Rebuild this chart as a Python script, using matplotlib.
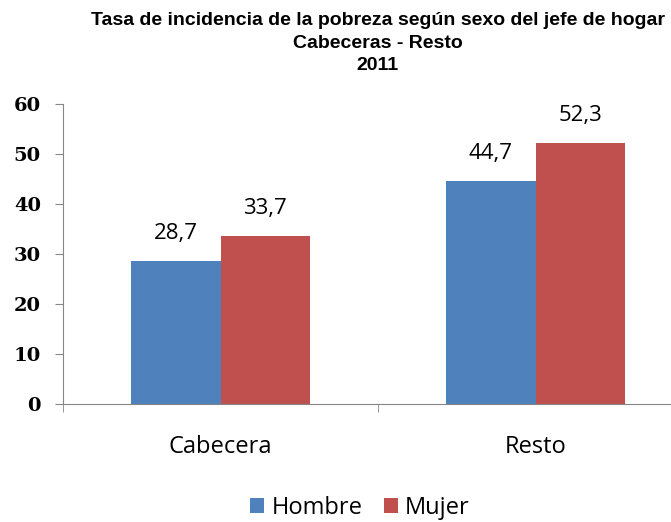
import matplotlib.pyplot as plt
import numpy as np

categorias = ['Cabecera', 'Resto']
hombre = [28.7, 44.7]
mujer = [33.7, 52.3]
series = ['Hombre', 'Mujer']
colores = ['#4F81BD', '#C0504D']
titulo = ['Tasa de incidencia de la pobreza según sexo del jefe de hogar', 'Cabeceras - Resto', '2011']

fig = plt.figure(figsize=(6.71, 5.22), dpi=100)
# eje que se sale por la derecha como en el original
ax = fig.add_axes([63 / 671, (522 - 404) / 522, 630 / 671, 300 / 522])

x = np.arange(len(categorias))
w = 0.283
b1 = ax.bar(x - w / 2, hombre, w, color=colores[0], label=series[0])
b2 = ax.bar(x + w / 2, mujer, w, color=colores[1], label=series[1])

for barras, vals in [(b1, hombre), (b2, mujer)]:
    for r, v in zip(barras, vals):
        ax.annotate(str(v).replace('.', ','), (r.get_x() + r.get_width() / 2, v),
                    xytext=(0, 12), textcoords='offset points', ha='center', va='bottom',
                    fontsize=16, family='Open Sans')

ax.set_xlim(-0.5, 1.5)
ax.set_ylim(0, 60)
ax.set_yticks(range(0, 61, 10))
ax.set_xticks(x)
ax.set_xticklabels(categorias, fontsize=17, family='Open Sans')
ax.set_xticks([-0.5, 0.5, 1.5], minor=True)
ax.tick_params(axis='x', which='major', length=0, pad=22)
ax.tick_params(axis='x', which='minor', length=6, color='#868686')
ax.tick_params(axis='y', length=6, color='#868686', labelsize=14, pad=10)
for t in ax.get_yticklabels():
    t.set_fontfamily('DejaVu Serif')
    t.set_fontweight('bold')

for s in ['top', 'right']:
    ax.spines[s].set_visible(False)
ax.spines['left'].set_color('#868686')
ax.spines['bottom'].set_color('#868686')

# titulo en tres lineas
for i, linea in enumerate(titulo):
    fig.text(0.563, 1 - (25 + 22.5 * i) / 522, linea, ha='center', va='baseline',
             fontsize=14, fontweight='bold', family='Liberation Sans')

fig.legend(handles=[b1, b2], labels=series, loc='center', bbox_to_anchor=(360 / 671, 1 - 508 / 522),
           ncol=2, frameon=False, prop={'family': 'Open Sans', 'size': 17},
           handlelength=0.6, handleheight=0.6, handletextpad=0.3, columnspacing=0.9)

fig.savefig('out.png', dpi=100)
